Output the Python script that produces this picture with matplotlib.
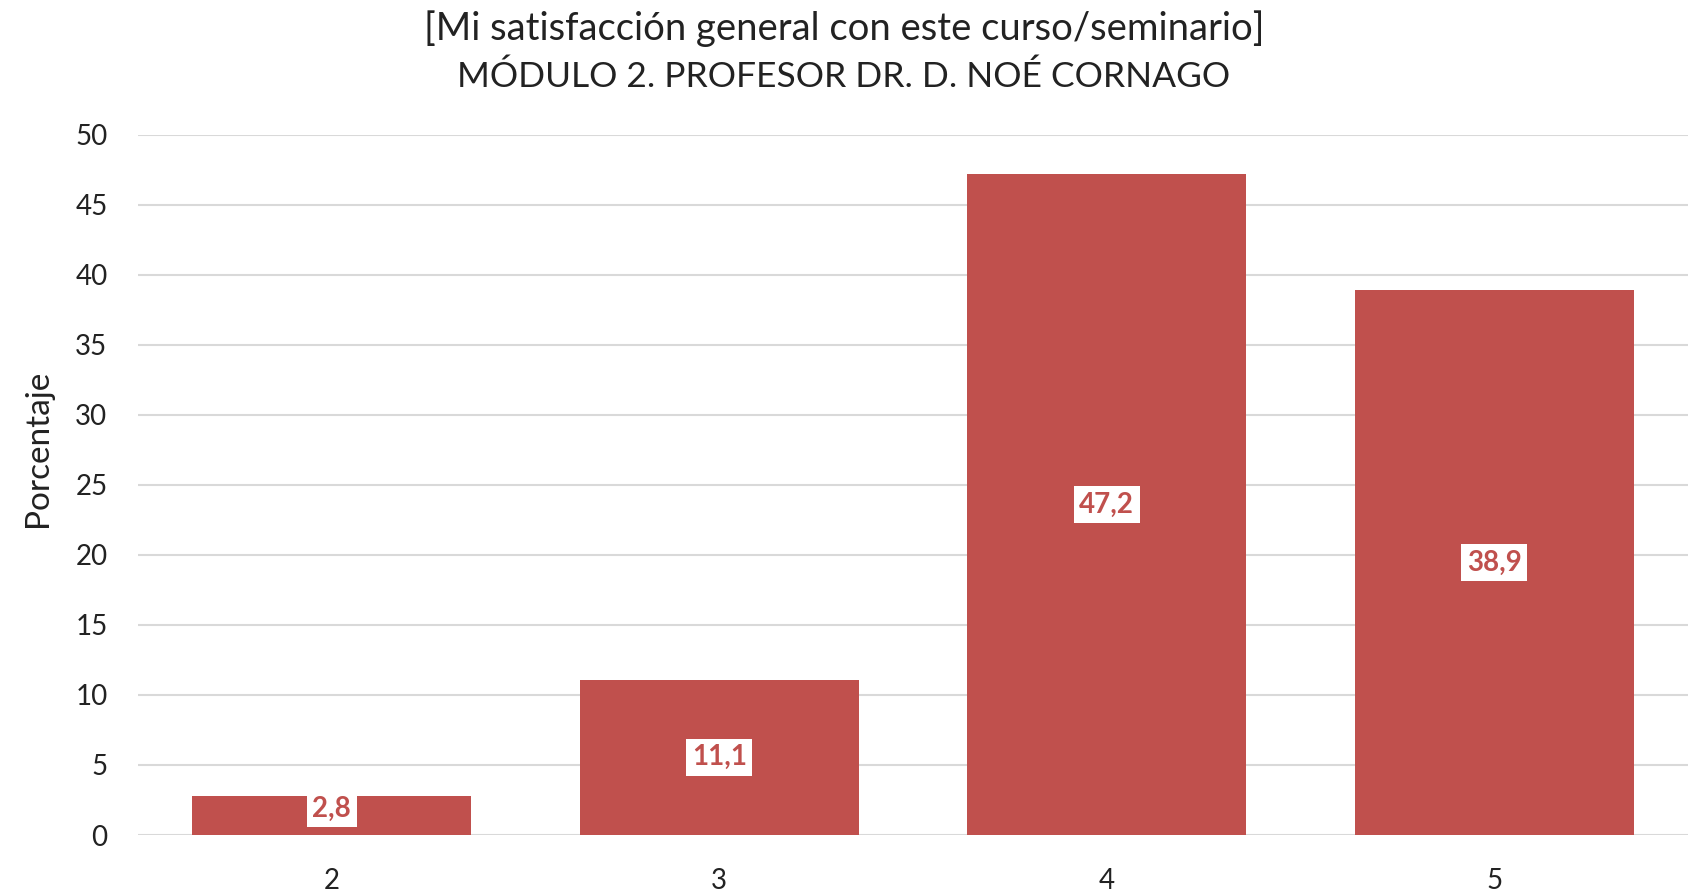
import matplotlib.pyplot as plt

plt.rcParams['font.family'] = ['Lato', 'DejaVu Sans']

categorias = ['2', '3', '4', '5']
porcentajes = [2.8, 11.1, 47.2, 38.9]
etiquetas = ['2,8', '11,1', '47,2', '38,9']

rojo = '#C0504D'

fig = plt.figure(figsize=(16.88, 8.94), dpi=100)
ax = fig.add_axes([138 / 1688, 1 - 835 / 894, 1550 / 1688, (835 - 134.6) / 894])

x = range(len(categorias))
ax.bar(x, porcentajes, width=0.72, color=rojo, zorder=3)

for xi, v, t in zip(x, porcentajes, etiquetas):
    ax.text(xi, max(v / 2, 1.9), t, ha='center', va='center', color=rojo, fontsize=20,
            fontweight='bold', zorder=4,
            bbox=dict(facecolor='white', edgecolor='none', pad=4))

ax.set_xlim(-0.5, 3.5)
ax.set_ylim(0, 50)
ax.set_yticks(range(0, 51, 5))
ax.set_xticks(list(x))
ax.set_xticklabels(categorias)
ax.tick_params(axis='both', length=0, labelsize=20, colors='#222222')
ax.tick_params(axis='y', pad=22)
ax.tick_params(axis='x', pad=24)
ax.grid(axis='y', color='#D9D9D9', linewidth=1.5, zorder=0)
for s in ax.spines.values():
    s.set_visible(False)

fig.text(38 / 1688, 1 - 448 / 894, 'Porcentaje', rotation=90, ha='center', va='center',
         fontsize=24, color='#222222')

fig.text(0.5, 1 - 29 / 894, '[Mi satisfacción general con este curso/seminario]',
         ha='center', va='center', fontsize=27.5, color='#222222')
fig.text(0.5, 1 - 77 / 894, 'MÓDULO 2. PROFESOR DR. D. NOÉ CORNAGO',
         ha='center', va='center', fontsize=25.5, color='#222222')

fig.savefig('out.png', dpi=100, facecolor='white')
